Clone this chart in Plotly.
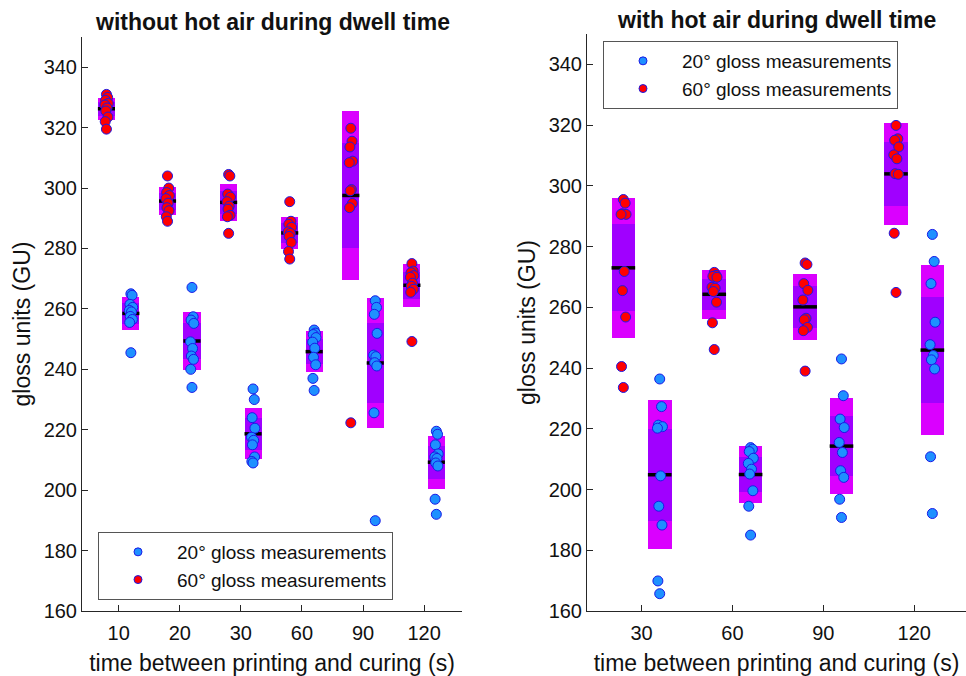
import numpy as np
import plotly.graph_objects as go

# ---------------- data ----------------
left_categories = ["10", "20", "30", "60", "90", "120"]
right_categories = ["30", "60", "90", "120"]

left_gloss60 = [
    [331, 330, 329, 328, 327.5, 326.5, 325.5, 323.5, 322, 319.5],
    [304, 300, 298.5, 297.5, 296.5, 295, 293.5, 292.5, 290.5, 289],
    [304.5, 304, 298, 297, 295.5, 294, 293, 291, 290.5, 285],
    [295.5, 289, 288, 287, 285.5, 285, 284, 282, 279, 276.5],
    [319.8, 315.5, 313.6, 308.9, 308.4, 299.5, 299.1, 294.9, 293.5, 222.3],
    [275, 272.5, 272, 271, 270.5, 268.5, 267.5, 266.5, 265.5, 249.2],
]
left_gloss20 = [
    [265, 264.5, 261.5, 260.5, 259.5, 259, 257.5, 256.5, 255.5, 245.5],
    [267.1, 257.4, 256.3, 255.2, 249.1, 246.9, 244.4, 243.3, 240.0, 234.0],
    [233.5, 230, 224, 220.5, 217.5, 216.5, 215, 211, 209.5, 209],
    [253, 252, 251.5, 250.5, 249, 247, 244, 241.5, 237, 233],
    [262.7, 260.5, 258.2, 251.9, 244.7, 244.2, 242.2, 241.1, 225.6, 189.9],
    [219.5, 218.5, 215, 212, 211, 210.5, 209, 208, 197, 192],
]
right_gloss60 = [
    [295.5, 294.3, 290.8, 290.6, 290.6, 271.8, 265.5, 256.8, 240.5, 233.6],
    [271.5, 270.5, 270.2, 269.9, 266.6, 266.3, 265.2, 261.7, 254.9, 246.1],
    [274.6, 274.1, 267.8, 265.6, 262.4, 256.4, 255.9, 253.4, 252.3, 239.0],
    [319.9, 315.5, 315.0, 312.8, 310.2, 308.9, 304.0, 303.8, 284.4, 264.9],
]
right_gloss20 = [
    [236.4, 227.3, 221.2, 220.7, 220.2, 204.5, 194.5, 188.3, 169.9, 165.7],
    [213.8, 213.3, 212.5, 210.3, 208.6, 206.7, 205.1, 199.6, 194.5, 185.0],
    [243.0, 230.9, 223.2, 220.4, 215.5, 212.2, 206.2, 204.0, 196.8, 190.8],
    [284.0, 275.1, 267.8, 255.1, 247.7, 244.1, 242.7, 239.7, 210.8, 192.1],
]

series_labels = ["20° gloss measurements", "60° gloss measurements"]

# ---------------- style ----------------
FONT = "Liberation Sans, Arial, sans-serif"
OUTER = "#DA00FF"   # +-1 SD
INNER = "#A000FF"   # 95% CI of mean
BLUE_FILL = "#1E90FF"
RED_FILL = "#FF0000"
EDGE = "#1A1AE6"
AXIS_COL = "#262626"
OFFSET = 0.2
JITTER = [0.0, 0.02, -0.015, 0.03, -0.025, 0.01, -0.01, 0.025, -0.02, 0.0]

fig = go.Figure()


def add_panel(groups20, groups60, xa, ya, half_w, legend_name):
    specs = [(groups20, +1, BLUE_FILL, series_labels[0]),
             (groups60, -1, RED_FILL, series_labels[1])]
    for groups, sign, fill, label in specs:
        centers, means, sds, cis = [], [], [], []
        for i, vals in enumerate(groups):
            v = np.asarray(vals, dtype=float)
            centers.append(i + 1 + sign * OFFSET)
            means.append(v.mean())
            sds.append(v.std(ddof=1))
            cis.append(1.96 * v.std(ddof=1) / np.sqrt(len(v)))
        centers = np.array(centers)
        means = np.array(means)
        sds = np.array(sds)
        cis = np.array(cis)
        fig.add_trace(go.Bar(x=centers, y=2 * sds, base=means - sds, width=2 * half_w,
                             marker=dict(color=OUTER, line=dict(width=0)),
                             xaxis=xa, yaxis=ya, showlegend=False, hoverinfo="skip"))
        fig.add_trace(go.Bar(x=centers, y=2 * cis, base=means - cis, width=2 * half_w,
                             marker=dict(color=INNER, line=dict(width=0)),
                             xaxis=xa, yaxis=ya, showlegend=False, hoverinfo="skip"))
        lx, ly = [], []
        for c, m in zip(centers, means):
            lx += [c - half_w, c + half_w, None]
            ly += [m, m, None]
        fig.add_trace(go.Scatter(x=lx, y=ly, mode="lines",
                                 line=dict(color="black", width=3.5),
                                 xaxis=xa, yaxis=ya, showlegend=False, hoverinfo="skip"))
    for groups, sign, fill, label in specs:
        px, py = [], []
        for i, vals in enumerate(groups):
            for j, val in enumerate(vals):
                px.append(i + 1 + sign * OFFSET + JITTER[j % len(JITTER)])
                py.append(val)
        fig.add_trace(go.Scatter(x=px, y=py, mode="markers", name=label, showlegend=False,
                                 marker=dict(size=10, color=fill, line=dict(color=EDGE, width=1)),
                                 xaxis=xa, yaxis=ya))
    # legend entries (smaller symbols as in the original legend)
    for groups, sign, fill, label in specs:
        fig.add_trace(go.Scatter(x=[None], y=[None], mode="markers", name=label,
                                 marker=dict(size=8, color=fill, line=dict(color=EDGE, width=1)),
                                 xaxis=xa, yaxis=ya, legend=legend_name, showlegend=True))


add_panel(left_gloss20, left_gloss60, "x", "y", 0.14, "legend")
add_panel(right_gloss20, right_gloss60, "x2", "y2", 0.13, "legend2")

W, H = 966, 676
axis_common = dict(showgrid=False, zeroline=False, showline=True, linecolor=AXIS_COL,
                   linewidth=1, ticks="inside", ticklen=6, tickcolor=AXIS_COL,
                   tickfont=dict(family=FONT, size=20, color="#111"), mirror=False)
title_font = dict(size=23, family=FONT, color="#111")

fig.update_layout(
    width=W, height=H,
    margin=dict(l=0, r=0, t=0, b=0, autoexpand=False),
    plot_bgcolor="white", paper_bgcolor="white",
    barmode="overlay", bargap=0,
    font=dict(family=FONT, color="#111"),
    xaxis=dict(domain=[82 / W, 462 / W], range=[0.4, 6.62],
               tickvals=list(range(1, len(left_categories) + 1)), ticktext=left_categories,
               ticklabelstandoff=4,
               title=dict(text="time between printing and curing (s)", font=title_font, standoff=12),
               anchor="y", **axis_common),
    yaxis=dict(domain=[(H - 611) / H, (H - 37) / H], range=[160, 350],
               tickvals=list(range(160, 341, 20)),
               title=dict(text="gloss units (GU)", font=title_font, standoff=6),
               anchor="x", **axis_common),
    xaxis2=dict(domain=[587 / W, 1.0], range=[0.4, 4.57],
                tickvals=list(range(1, len(right_categories) + 1)), ticktext=right_categories,
                ticklabelstandoff=4,
                title=dict(text="time between printing and curing (s)", font=title_font, standoff=12),
                anchor="y2", **axis_common),
    yaxis2=dict(domain=[(H - 611) / H, (H - 34) / H], range=[160, 350],
                tickvals=list(range(160, 341, 20)),
                title=dict(text="gloss units (GU)", font=title_font, standoff=6),
                anchor="x2", **axis_common),
    legend=dict(x=98 / W, y=(H - 532) / H, xanchor="left", yanchor="top",
                bgcolor="white", bordercolor="#555", borderwidth=1,
                font=dict(family=FONT, size=19, color="#111"), itemwidth=68, tracegroupgap=0),
    legend2=dict(x=603 / W, y=(H - 41) / H, xanchor="left", yanchor="top",
                 bgcolor="white", bordercolor="#555", borderwidth=1,
                 font=dict(family=FONT, size=19, color="#111"), itemwidth=68, tracegroupgap=0),
    annotations=[
        dict(text="<b>without hot air during dwell time</b>", x=(82 + 462) / 2 / W, y=(H - 22) / H,
             xref="paper", yref="paper", showarrow=False, xanchor="center", yanchor="middle",
             font=dict(family=FONT, size=23, color="#111")),
        dict(text="<b>with hot air during dwell time</b>", x=(587 + 966) / 2 / W, y=(H - 20) / H,
             xref="paper", yref="paper", showarrow=False, xanchor="center", yanchor="middle",
             font=dict(family=FONT, size=23, color="#111")),
    ],
)

fig.write_html("out.html", config={"displayModeBar": False},
               post_script="document.body.style.margin='0';document.body.style.overflow='hidden';")
